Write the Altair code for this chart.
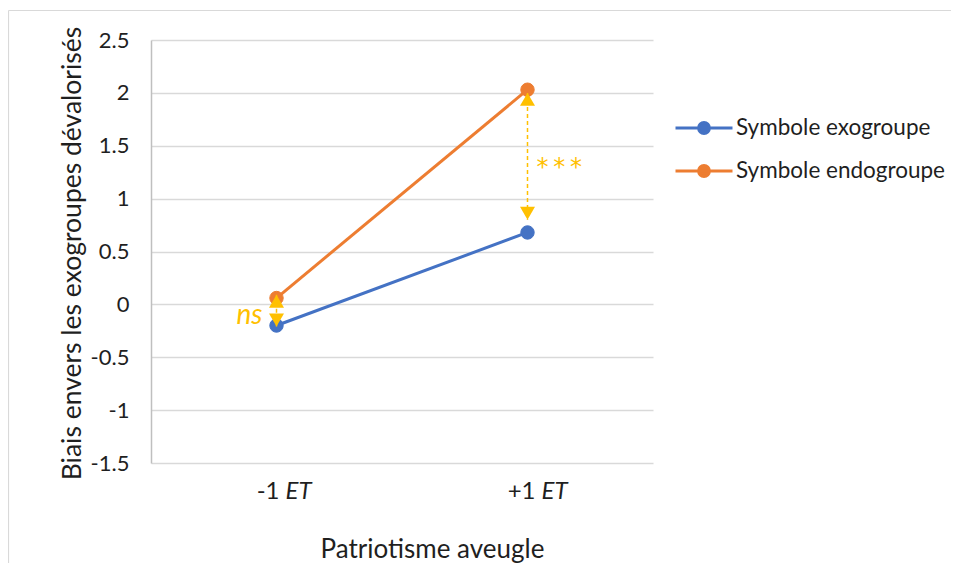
import altair as alt
import pandas as pd

categories = ["-1 ET", "+1 ET"]
cat_prefix = ["-1", "+1"]
cat_suffix = ["ET", "ET"]
series_names = ["Symbole exogroupe", "Symbole endogroupe"]
exo_values = [-0.20, 0.68]
endo_values = [0.06, 2.03]
y_ticks = [-1.5, -1.0, -0.5, 0.0, 0.5, 1.0, 1.5, 2.0, 2.5]
arrow_top = [0.09, 2.00]
arrow_bottom = [-0.21, 0.80]
ns_label, ns_cat, ns_value = "ns", "-1 ET", -0.11
star_label, star_cat, star_value = "*\u2009*\u2009*", "+1 ET", 1.35
series_colors = ["#4472C4", "#ED7D31"]

FONT = "Lato"
ANNOT = "#FFC000"
TEXT = "#1f1f1f"
W, H = 502, 423
# horizontal nudge of each category label (style only)
label_dx = [3, 8]

rows = []
for s, vals in zip(series_names, [exo_values, endo_values]):
    for c, v in zip(categories, vals):
        rows.append({"serie": s, "cat": c, "val": v})
df = pd.DataFrame(rows)

arrows = pd.DataFrame({"cat": categories, "top": arrow_top, "bottom": arrow_bottom})
ticklab = pd.DataFrame({"cat": categories, "pre": cat_prefix, "suf": cat_suffix})
ns_df = pd.DataFrame({"cat": [ns_cat], "val": [ns_value], "lab": [ns_label]})
star_df = pd.DataFrame({"cat": [star_cat], "val": [star_value], "lab": [star_label]})
dummy = pd.DataFrame({"k": [0]})

xs = alt.Scale(type="point", domain=categories, padding=0.5)
ys = alt.Scale(domain=[-1.5, 2.5], nice=False, zero=False)
cs = alt.Scale(domain=series_names, range=series_colors)

x_axis = alt.Axis(title="Patriotisme aveugle", labels=False, ticks=False, domain=False,
                  grid=False, titleX=281, titleY=94, titleBaseline="alphabetic",
                  titleAlign="center", titleFont=FONT, titleFontSize=26,
                  titleFontWeight="normal", titleColor=TEXT)
y_axis = alt.Axis(title="Biais envers les exogroupes dévalorisés", values=y_ticks,
                  labelExpr="toString(datum.value)", grid=True, gridColor="#D9D9D9",
                  gridWidth=1.3, ticks=False, domain=True, domainColor="#BFBFBF",
                  domainWidth=1.5, labelPadding=22, labelFont=FONT, labelFontSize=22,
                  labelColor=TEXT, titleX=-79, titleY=213, titleAngle=-90,
                  titleAlign="center", titleBaseline="middle", titleFont=FONT,
                  titleFontSize=26.5, titleFontWeight="normal", titleColor=TEXT)

X = alt.X("cat:N", scale=xs, axis=x_axis)

legend_path = "M-1,0H1M0.19,0A0.19,0.19,0,1,1,-0.19,0A0.19,0.19,0,1,1,0.19,0Z"
legend = alt.Legend(
    title=None, orient="none", legendX=523, legendY=67.5,
    symbolType=legend_path, symbolSize=3249, symbolStrokeWidth=3, symbolOpacity=1,
    labelFont=FONT, labelFontSize=22.5, labelColor=TEXT, labelOffset=2, labelLimit=400,
    clipHeight=41, rowPadding=2, padding=0,
)

lines = alt.Chart(df).mark_line(strokeWidth=3).encode(
    x=X, y=alt.Y("val:Q", scale=ys, axis=y_axis),
    stroke=alt.Stroke("serie:N", scale=cs, legend=legend),
)
points = alt.Chart(df).mark_point(size=180, opacity=1, filled=True, strokeWidth=1).encode(
    x=X, y=alt.Y("val:Q", scale=ys, axis=y_axis),
    fill=alt.Fill("serie:N", scale=cs, legend=legend),
    stroke=alt.Stroke("serie:N", scale=cs, legend=legend),
)
rule = alt.Chart(arrows).mark_rule(strokeDash=[4, 3], strokeWidth=1.5, color=ANNOT).encode(
    x=X, y=alt.Y("top:Q", scale=ys, axis=y_axis), y2="bottom:Q",
)
tri_up = alt.Chart(arrows).mark_point(shape="triangle-up", filled=True, size=225,
                                      color=ANNOT, opacity=1, yOffset=6.5).encode(
    x=X, y=alt.Y("top:Q", scale=ys, axis=y_axis),
)
tri_down = alt.Chart(arrows).mark_point(shape="triangle-down", filled=True, size=225,
                                        color=ANNOT, opacity=1, yOffset=-6.5).encode(
    x=X, y=alt.Y("bottom:Q", scale=ys, axis=y_axis),
)
ns_text = alt.Chart(ns_df).mark_text(font=FONT, fontSize=28, fontStyle="italic",
                                     color=ANNOT, align="right", baseline="middle",
                                     dx=-14).encode(
    x=X, y=alt.Y("val:Q", scale=ys, axis=y_axis), text="lab:N",
)
star_text = alt.Chart(star_df).mark_text(font="DejaVu Sans", fontSize=24, color=ANNOT,
                                         align="left", baseline="alphabetic", dx=9, dy=13).encode(
    x=X, y=alt.Y("val:Q", scale=ys, axis=y_axis), text="lab:N",
)

label_layers = []
for cat, ddx in zip(categories, label_dx):
    sub = ticklab[ticklab["cat"] == cat]
    label_layers.append(alt.Chart(sub).mark_text(
        font=FONT, fontSize=24, color=TEXT, align="right", baseline="middle", dx=ddx
    ).encode(x=X, y=alt.value(452), text="pre:N"))
    label_layers.append(alt.Chart(sub).mark_text(
        font=FONT, fontSize=24, color=TEXT, align="left", baseline="middle",
        dx=ddx + 6, fontStyle="italic"
    ).encode(x=X, y=alt.value(452), text="suf:N"))

frame_top = alt.Chart(dummy).mark_rule(color="#D9D9D9", strokeWidth=1.2).encode(
    x=alt.value(-142.5), x2=alt.value(800), y=alt.value(-29.5),
)
frame_left = alt.Chart(dummy).mark_rule(color="#D9D9D9", strokeWidth=1.2).encode(
    x=alt.value(-142.5), y=alt.value(-29.5), y2=alt.value(700),
)

chart = alt.layer(
    frame_top, frame_left, lines, points, rule, tri_up, tri_down,
    ns_text, star_text, *label_layers,
).properties(
    width=W, height=H,
    padding={"left": 143, "top": 32, "right": 298, "bottom": 100},
    autosize=alt.AutoSizeParams(type="none"),
    background="white",
).configure_view(stroke=None)

chart.save("out.html", embed_options={"renderer": "svg", "actions": False})
